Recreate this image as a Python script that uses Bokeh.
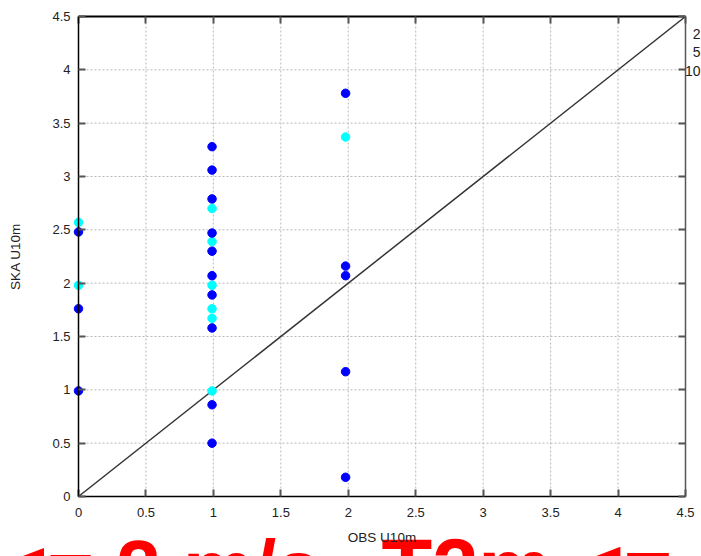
from bokeh.plotting import figure
from bokeh.models import Label, FixedTicker, LinearAxis, Range1d
from bokeh.core.properties import value
from bokeh.embed import file_html
from bokeh.resources import INLINE

# ---- data ----
cyan_x = [0.0, 0.0, 0.99, 0.99, 0.99, 0.99, 0.99, 0.99, 1.98]
cyan_y = [2.57, 1.98, 2.70, 2.39, 1.98, 1.76, 1.67, 0.99, 3.37]

blue_x = [0.0, 0.0, 0.0,
          0.99, 0.99, 0.99, 0.99, 0.99, 0.99, 0.99, 0.99, 0.99, 0.99,
          1.98, 1.98, 1.98, 1.98, 1.98]
blue_y = [2.48, 1.76, 0.99,
          3.28, 3.06, 2.79, 2.47, 2.30, 2.07, 1.89, 1.58, 0.86, 0.50,
          3.78, 2.16, 2.07, 1.17, 0.18]

axis_min, axis_max = 0.0, 4.5
diag_x = [axis_min, axis_max]
diag_y = [axis_min, axis_max]

tick_values = [0.0, 0.5, 1.0, 1.5, 2.0, 2.5, 3.0, 3.5, 4.0, 4.5]
tick_labels = ["0", "0.5", "1", "1.5", "2", "2.5", "3", "3.5", "4", "4.5"]

key_labels = ["2", "5", "10"]
x_title = "OBS U10m"
y_title = "SKA U10m"
banner_texts = ["<= 2 m/s", "T2m <="]

TICK_FONT = "'Liberation Sans Narrow', 'Liberation Sans', sans-serif"
LABEL_FONT = "'Liberation Sans', sans-serif"

# ---- layout: frame fills the whole canvas, axes are pinned at 0 / 4.5 ----
W, H = 701, 556
LEFT, RIGHT, TOP, BOTTOM = 78, 16, 16, 60
xs = (W - LEFT - RIGHT) / (axis_max - axis_min)
ys = (H - TOP - BOTTOM) / (axis_max - axis_min)
x_range = Range1d(axis_min - LEFT / xs, axis_max + RIGHT / xs)
y_range = Range1d(axis_min - BOTTOM / ys, axis_max + TOP / ys)

p = figure(width=W, height=H, x_range=x_range, y_range=y_range,
           output_backend="svg", toolbar_location=None,
           x_axis_location=None, y_axis_location=None,
           min_border=0)
p.background_fill_color = "white"
p.border_fill_color = "white"
p.outline_line_color = None
p.grid.visible = False


def style_axis(ax, labels=True):
    ax.ticker = FixedTicker(ticks=tick_values)
    ax.bounds = (axis_min, axis_max)
    if labels:
        ax.major_label_overrides = {v: s for v, s in zip(tick_values, tick_labels)}
    else:
        ax.major_label_overrides = {v: "" for v in tick_values}
    ax.major_tick_in = 7
    ax.major_tick_out = 0
    ax.minor_tick_in = 0
    ax.minor_tick_out = 0
    ax.major_tick_line_color = "#555555"
    ax.major_tick_line_width = 2
    ax.axis_line_color = "black"
    ax.axis_line_width = 1.5
    ax.major_label_text_font = TICK_FONT
    ax.major_label_text_font_size = "13px"
    ax.major_label_text_color = "#222222"
    ax.axis_label_text_font = LABEL_FONT
    ax.axis_label_text_font_size = "13.5px"
    ax.axis_label_text_font_style = "normal"
    ax.axis_label_text_color = "#222222"


# dotted grid inside the data box
p.segment(x0=tick_values, y0=[axis_min] * len(tick_values),
          x1=tick_values, y1=[axis_max] * len(tick_values),
          line_color="#b8b8b8", line_dash="2 2", line_width=1)
p.segment(x0=[axis_min] * len(tick_values), y0=tick_values,
          x1=[axis_max] * len(tick_values), y1=tick_values,
          line_color="#b8b8b8", line_dash="2 2", line_width=1)

xaxis = LinearAxis(fixed_location=axis_min, axis_label=x_title)
style_axis(xaxis)
xaxis.major_label_standoff = 11
xaxis.axis_label_standoff = 10
p.add_layout(xaxis, "below")

yaxis = LinearAxis(fixed_location=axis_min, axis_label=y_title)
style_axis(yaxis)
yaxis.major_label_standoff = 8
yaxis.axis_label_standoff = 26
p.add_layout(yaxis, "left")

top_axis = LinearAxis(fixed_location=axis_max)
style_axis(top_axis, labels=False)
top_axis.axis_line_width = 2
p.add_layout(top_axis, "above")

right_axis = LinearAxis(fixed_location=axis_max)
style_axis(right_axis, labels=False)
right_axis.axis_line_color = "#555555"
p.add_layout(right_axis, "right")

p.line(diag_x, diag_y, line_color="#333333", line_width=1.5)
p.scatter(cyan_x, cyan_y, size=8.5, fill_color="#00ffff", line_color="#00ffff")
p.scatter(blue_x, blue_y, size=8.5, fill_color="#0000ff", line_color="#0000ff")

# small key texts at the top right
for i, t in enumerate(key_labels):
    p.add_layout(Label(x=axis_max, y=axis_max, x_offset=15, y_offset=-17 - 18.5 * i,
                       text=t, text_align="right", text_baseline="middle",
                       text_font=TICK_FONT, text_font_size="14px",
                       text_color="#222222"))

# big red banner, cut off by the bottom edge (positions in canvas pixels -> data)
banner_px_x = [0, 381]
banner_top_px = [523, 521]
banner_sizes = ["80px", "83px"]
for t, px, py, fs in zip(banner_texts, banner_px_x, banner_top_px, banner_sizes):
    p.text(x=[x_range.start + px / xs], y=[y_range.end - py / ys], text=[t],
           text_align="left", text_baseline="top",
           text_font=value("Liberation Sans"), text_font_size=fs,
           text_font_style="bold", text_color="#ff0000")

open("out.html", "w").write(file_html(p, INLINE))
